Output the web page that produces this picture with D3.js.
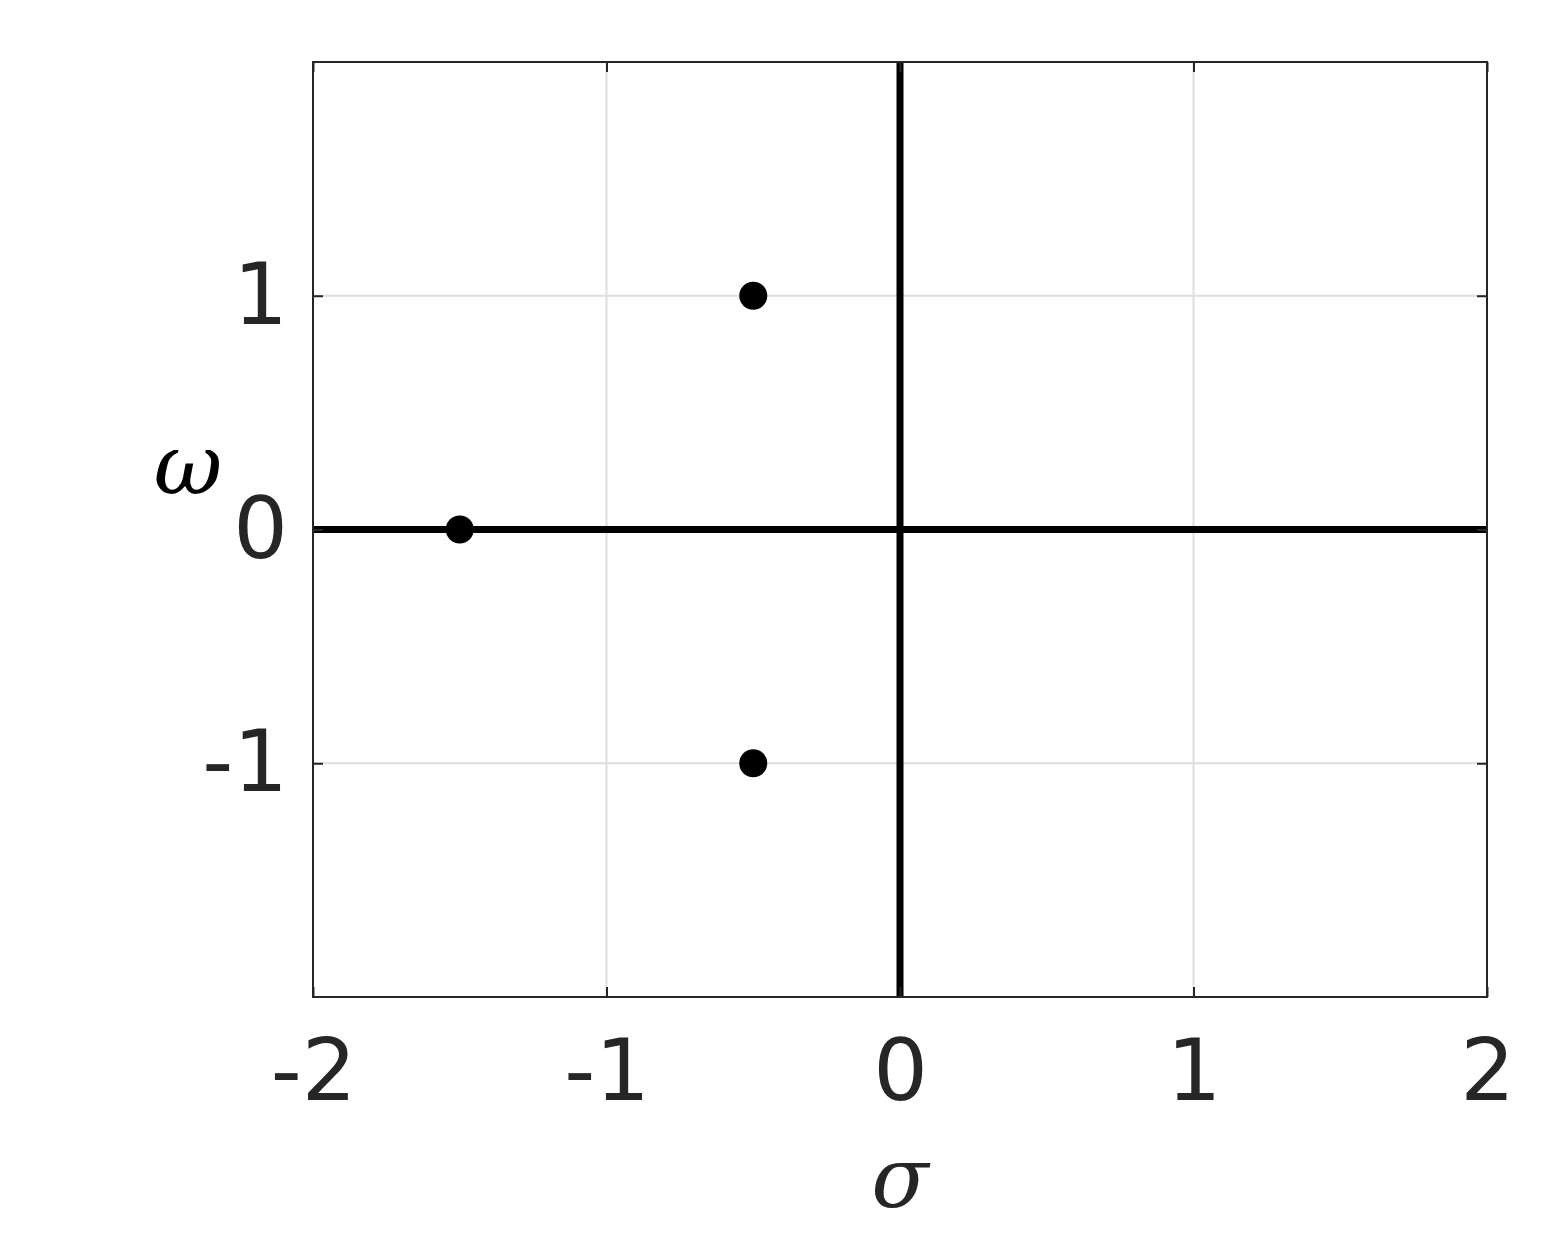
<!DOCTYPE html>
<html>
<head>
<meta charset="utf-8">
<script src="https://cdn.jsdelivr.net/npm/d3@7"></script>
<style>
  html, body { margin: 0; padding: 0; background: #fff; }
  svg { display: block; }
</style>
</head>
<body>
<svg id="chart" width="1566" height="1247"></svg>
<script>
// Pole locations (sigma, omega)
const poleSigma = [-1.5, -0.5, -0.5];
const poleOmega = [0, 1, -1];
const xTicks = [-2, -1, 0, 1, 2];
const yTicks = [-1, 0, 1];

const svg = d3.select("#chart");
const plotLeft = 313, plotRight = 1487, plotTop = 62, plotBottom = 997;

const x = d3.scaleLinear().domain([-2, 2]).range([plotLeft, plotRight]);
const y = d3.scaleLinear().domain([-2, 2]).range([plotBottom, plotTop]);

// Grid
const grid = svg.append("g");
grid.selectAll(".gx").data(xTicks).join("line")
    .attr("x1", d => x(d)).attr("x2", d => x(d))
    .attr("y1", plotTop).attr("y2", plotBottom)
    .attr("stroke", "#dedede").attr("stroke-width", 2);
grid.selectAll(".gy").data(yTicks).join("line")
    .attr("x1", plotLeft).attr("x2", plotRight)
    .attr("y1", d => y(d)).attr("y2", d => y(d))
    .attr("stroke", "#dedede").attr("stroke-width", 2);

// Zero axes
svg.append("line")
    .attr("x1", x(-2)).attr("x2", x(2))
    .attr("y1", y(0)).attr("y2", y(0))
    .attr("stroke", "#000").attr("stroke-width", 7);
svg.append("line")
    .attr("x1", x(0)).attr("x2", x(0))
    .attr("y1", y(2)).attr("y2", y(-2))
    .attr("stroke", "#000").attr("stroke-width", 7);

// Poles
svg.append("g").selectAll("circle")
    .data(poleSigma.map((s, i) => ({ s, w: poleOmega[i] })))
    .join("circle")
    .attr("cx", d => x(d.s))
    .attr("cy", d => y(d.w))
    .attr("r", 14)
    .attr("fill", "#000");

// Axes with inward ticks
const fmt = d => d < 0 ? "-" + Math.abs(d) : String(d);
const tickStyle = g => {
    g.select(".domain").remove();
    g.selectAll(".tick line").attr("stroke", "#262626").attr("stroke-width", 2);
    g.selectAll(".tick text")
        .attr("fill", "#262626")
        .style("font-family", "DejaVu Sans")
        .style("font-size", "86px");
};

svg.append("g").attr("transform", `translate(0,${plotBottom})`)
    .call(d3.axisBottom(x).tickValues(xTicks).tickFormat(fmt).tickSizeInner(-10).tickPadding(42))
    .call(tickStyle);
svg.append("g").attr("transform", `translate(0,${plotTop})`)
    .call(d3.axisTop(x).tickValues(xTicks).tickFormat("").tickSizeInner(-10))
    .call(tickStyle);
svg.append("g").attr("transform", `translate(${plotLeft},0)`)
    .call(d3.axisLeft(y).tickValues(yTicks).tickFormat(fmt).tickSizeInner(-10).tickPadding(25))
    .call(tickStyle);
svg.append("g").attr("transform", `translate(${plotRight},0)`)
    .call(d3.axisRight(y).tickValues(yTicks).tickFormat("").tickSizeInner(-10))
    .call(tickStyle);

// Box
svg.append("rect")
    .attr("x", plotLeft).attr("y", plotTop)
    .attr("width", plotRight - plotLeft).attr("height", plotBottom - plotTop)
    .attr("fill", "none").attr("stroke", "#262626").attr("stroke-width", 2);

// Axis labels
svg.append("text")
    .attr("x", x(0)).attr("y", 1207)
    .attr("text-anchor", "middle")
    .style("font-family", "DejaVu Serif")
    .style("font-style", "italic")
    .style("font-size", "84px")
    .attr("fill", "#262626")
    .text("σ");
svg.append("text")
    .attr("x", 188).attr("y", 494)
    .attr("text-anchor", "middle")
    .style("font-family", "DejaVu Serif")
    .style("font-style", "italic")
    .style("font-size", "84px")
    .attr("fill", "#000")
    .text("ω");
</script>
</body>
</html>
